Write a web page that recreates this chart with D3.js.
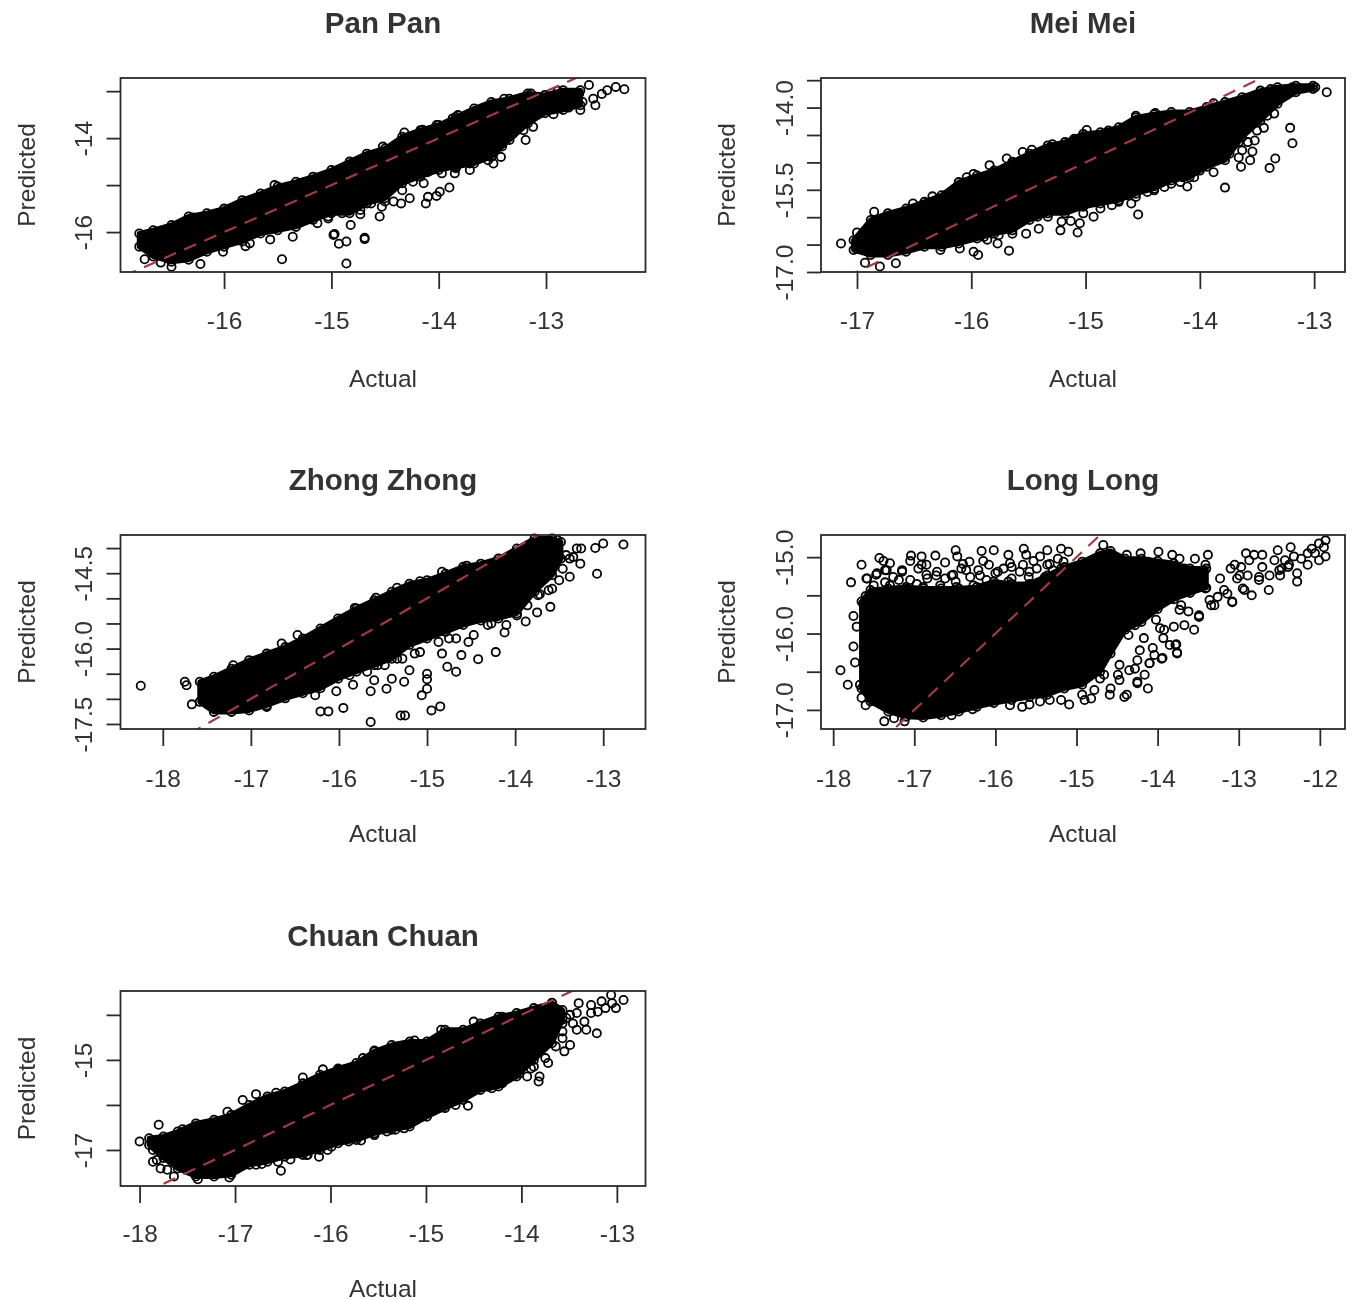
<!DOCTYPE html>
<html><head><meta charset="utf-8">
<script src="https://cdn.jsdelivr.net/npm/d3@7"></script>
<style>
html,body{margin:0;padding:0;background:#fff}
svg{display:block;filter:blur(0.6px)}
text{font-family:"Liberation Sans",Arial,sans-serif;fill:#333}
</style></head><body>
<div id="chart"></div>
<script>
// ---------- Pan Pan ----------
const panXlim=[-16.965,-12.073], panYlim=[-16.85,-12.72];
const panXTicks=[-16,-15,-14,-13], panYTicks=[-13,-14,-15,-16], panYLabels=[-14,-16];
const panBandX=[-16.79,-16.66,-16.49,-16.33,-16.16,-16.0,-15.83,-15.66,-15.50,-15.33,-15.17,-15.0,-14.83,-14.67,-14.5,-14.34,-14.17,-14.0,-13.84,-13.67,-13.51,-13.34,-13.17,-13.01,-12.84,-12.68];
const panBandHigh=[-16.03,-15.96,-15.85,-15.67,-15.60,-15.50,-15.32,-15.18,-15.03,-14.93,-14.82,-14.68,-14.50,-14.33,-14.22,-13.97,-13.83,-13.72,-13.55,-13.37,-13.23,-13.16,-13.05,-13.08,-12.98,-12.98];
const panBandLow=[-16.31,-16.52,-16.63,-16.59,-16.42,-16.31,-16.20,-16.03,-15.96,-15.89,-15.74,-15.60,-15.60,-15.39,-15.28,-14.96,-14.82,-14.68,-14.61,-14.54,-14.40,-14.04,-13.69,-13.47,-13.40,-13.30];
const panActual=[-15.46,-14.86,-16.22,-16.49,-16.59,-16.74,-16.01,-15.80,-15.76,-15.57,-15.36,-14.97,-14.98,-14.93,-14.86,-14.69,-14.69,-14.82,-14.90,-14.73,-15.13,-15.03,-14.55,-14.53,-14.42,-14.35,-14.27,-14.12,-14.10,-14.02,-13.99,-13.90,-14.24,-14.32,-14.10,-13.85,-13.71,-13.49,-13.42,-13.54,-13.19,-13.12,-13.31,-13.21,-12.93,-12.79,-12.68,-12.54,-12.56,-12.48,-12.35,-12.27,-12.60,-12.89,-12.69,-12.78,-12.66,-12.43,-14.32,-14.15,-14.02,-13.87,-13.82,-14.52,-16.29,-15.53,-13.14,-13.39,-13.34,-13.41,-13.27,-13.17,-13.08,-12.98,-13.57,-13.71,-13.84,-13.97,-14.14,-14.34,-14.50,-14.63,-14.73,-14.90,-15.03,-13.72,-13.71];
const panPredicted=[-16.58,-16.67,-16.68,-16.74,-16.65,-16.58,-16.42,-16.30,-16.24,-16.16,-16.10,-16.04,-16.06,-16.25,-16.20,-16.12,-16.15,-15.85,-15.60,-15.62,-15.81,-15.71,-15.67,-15.46,-15.35,-15.39,-15.28,-15.39,-15.25,-15.23,-15.14,-15.05,-14.93,-14.86,-14.72,-14.75,-14.68,-14.54,-14.40,-14.47,-14.04,-13.76,-13.91,-13.83,-13.49,-13.35,-13.40,-13.30,-13.16,-13.06,-12.91,-12.96,-12.87,-12.99,-13.05,-13.19,-13.23,-12.98,-13.88,-13.82,-13.72,-13.58,-13.51,-14.18,-15.69,-15.0,-13.05,-13.16,-13.90,-14.18,-13.62,-13.51,-13.44,-13.33,-14.36,-14.54,-14.64,-14.75,-14.96,-15.11,-15.35,-15.39,-15.53,-15.46,-15.67,-14.04,-14.25];

// ---------- Mei Mei ----------
const meiXlim=[-17.315,-12.73], meiYlim=[-17.0,-13.46];
const meiXTicks=[-17,-16,-15,-14,-13], meiYTicks=[-14,-14.5,-15,-15.5,-16,-16.5,-17,-13.5], meiYLabels=[-14,-15.5,-17];
const meiBandX=[-17.03,-16.88,-16.73,-16.57,-16.41,-16.26,-16.11,-15.95,-15.80,-15.64,-15.49,-15.33,-15.18,-15.02,-14.87,-14.71,-14.56,-14.40,-14.25,-14.09,-13.94,-13.78,-13.63,-13.47,-13.32,-13.16,-13.01];
const meiBandHigh=[-16.42,-16.05,-15.93,-15.84,-15.72,-15.60,-15.36,-15.24,-15.15,-14.99,-14.84,-14.69,-14.63,-14.48,-14.45,-14.36,-14.18,-14.12,-14.08,-14.08,-13.99,-13.90,-13.81,-13.69,-13.63,-13.60,-13.60];
const meiBandLow=[-16.60,-16.69,-16.69,-16.63,-16.54,-16.54,-16.48,-16.39,-16.30,-16.24,-16.05,-15.93,-15.93,-15.81,-15.75,-15.69,-15.57,-15.48,-15.33,-15.27,-15.08,-14.96,-14.54,-14.24,-13.93,-13.72,-13.66];
const meiActual=[-17.14,-17.0,-16.93,-16.80,-16.66,-16.85,-16.27,-16.10,-15.98,-15.94,-15.67,-15.86,-15.77,-15.52,-15.41,-15.22,-15.07,-15.05,-15.13,-15.33,-14.93,-14.77,-14.60,-14.54,-14.64,-14.46,-14.31,-14.17,-14.11,-14.05,-13.88,-13.78,-13.64,-13.56,-13.54,-13.63,-13.52,-13.78,-13.44,-13.35,-13.39,-13.34,-13.19,-13.21,-12.89,-12.99,-13.19,-13.38,-14.99,-15.10,-15.29,-15.47,-15.55,-15.69,-15.84,-15.98,-16.04,-16.34,-16.51,-14.56,-14.39,-14.80,-13.88,-13.72,-13.60,-13.50,-13.66,-13.58,-13.74,-13.80,-13.66,-13.47,-13.41,-13.54,-13.63,-13.84,-14.0,-14.15,-14.25,-14.40,-14.56,-14.71,-14.87,-15.02,-15.21,-15.42,-15.64,-15.76,-15.89];
const meiPredicted=[-16.48,-16.28,-16.83,-16.90,-16.84,-15.90,-16.60,-16.57,-16.63,-16.69,-16.61,-16.41,-16.48,-16.30,-16.21,-16.24,-16.28,-16.11,-16.07,-15.99,-15.99,-15.78,-15.75,-15.95,-15.60,-15.54,-15.45,-15.36,-15.44,-15.27,-15.18,-15.46,-15.08,-14.96,-14.80,-14.78,-14.60,-14.66,-14.37,-14.11,-15.10,-14.93,-14.65,-14.37,-13.72,-13.63,-13.63,-13.66,-14.41,-14.57,-14.67,-14.77,-14.81,-14.93,-15.05,-15.21,-15.27,-15.62,-15.75,-14.15,-14.10,-14.42,-13.92,-14.36,-14.30,-14.42,-14.63,-14.63,-14.84,-14.72,-14.91,-14.18,-14.15,-14.08,-14.48,-14.93,-15.15,-15.27,-15.39,-15.51,-15.63,-15.72,-15.84,-15.93,-16.08,-15.99,-16.30,-16.33,-16.36];

// ---------- Zhong Zhong ----------
const zhongXlim=[-18.48,-12.52], zhongYlim=[-17.6,-13.74];
const zhongXTicks=[-18,-17,-16,-15,-14,-13], zhongYTicks=[-14,-14.5,-15,-15.5,-16,-16.5,-17,-17.5], zhongYLabels=[-14.5,-16,-17.5];
const zhongBandX=[-17.58,-17.42,-17.22,-17.02,-16.82,-16.61,-16.41,-16.21,-16.01,-15.80,-15.60,-15.40,-15.20,-15.0,-14.79,-14.59,-14.39,-14.19,-13.98,-13.78,-13.58,-13.48];
const zhongBandHigh=[-16.66,-16.56,-16.40,-16.23,-16.10,-15.97,-15.80,-15.60,-15.40,-15.20,-15.04,-14.87,-14.71,-14.64,-14.51,-14.37,-14.31,-14.21,-14.01,-13.81,-13.81,-13.88];
const zhongBandLow=[-17.06,-17.26,-17.26,-17.23,-17.13,-16.99,-16.89,-16.79,-16.60,-16.46,-16.33,-16.20,-15.93,-15.80,-15.67,-15.53,-15.44,-15.40,-15.30,-14.87,-14.54,-14.21];
const zhongActual=[-18.25,-17.75,-17.73,-17.67,-16.21,-16.12,-15.95,-15.64,-15.30,-15.25,-15.06,-15.0,-14.95,-14.85,-15.0,-15.0,-15.26,-15.46,-15.64,-16.03,-16.27,-15.84,-15.60,-15.40,-15.20,-15.56,-15.34,-15.14,-14.77,-14.67,-14.61,-14.42,-14.22,-14.83,-14.53,-14.75,-14.12,-14.27,-13.88,-13.75,-13.60,-13.72,-13.58,-13.38,-13.07,-13.26,-12.77,-13.0,-13.09,-13.25,-13.34,-13.52,-14.55,-14.83,-15.08,-15.34,-15.58,-15.82,-16.47,-16.65,-17.20,-16.82,-13.42,-13.46,-13.50,-13.62,-13.74,-13.86,-13.98,-14.10,-14.31,-14.47,-14.67,-14.87,-15.08,-15.28,-15.48,-15.68,-15.88,-13.30,-13.38];
const zhongPredicted=[-16.74,-16.66,-16.73,-17.11,-17.25,-17.25,-17.18,-17.46,-17.33,-17.33,-16.93,-16.80,-17.23,-17.15,-16.61,-16.50,-16.66,-16.80,-16.85,-16.85,-16.93,-16.72,-16.63,-16.60,-16.43,-16.33,-16.20,-16.10,-16.36,-16.46,-16.13,-16.21,-16.07,-16.10,-15.87,-15.80,-15.68,-15.50,-15.46,-15.28,-15.17,-14.92,-14.81,-14.57,-14.51,-14.31,-13.93,-13.91,-14.0,-14.01,-14.18,-13.84,-14.35,-14.47,-14.66,-14.79,-14.99,-15.19,-15.73,-15.90,-16.33,-17.16,-14.14,-14.41,-14.64,-14.84,-14.94,-15.14,-15.34,-15.53,-15.53,-15.73,-15.80,-15.87,-16.07,-16.20,-16.33,-16.46,-16.53,-14.01,-14.21];

// ---------- Long Long ----------
const longXlim=[-18.15,-11.69], longYlim=[-17.25,-14.71];
const longXTicks=[-18,-17,-16,-15,-14,-13,-12], longYTicks=[-15,-15.5,-16,-16.5,-17], longYLabels=[-15,-16,-17];
const longBandX=[-17.65,-17.54,-17.32,-17.10,-16.89,-16.67,-16.45,-16.23,-16.02,-15.80,-15.58,-15.36,-15.15,-14.93,-14.71,-14.58,-14.4,-14.2,-14.0,-13.8,-13.6,-13.4];
const longBandHigh=[-15.58,-15.43,-15.41,-15.39,-15.41,-15.41,-15.41,-15.39,-15.32,-15.35,-15.35,-15.24,-15.13,-15.06,-14.95,-14.92,-15.02,-15.02,-15.05,-15.08,-15.15,-15.15];
const longBandLow=[-16.72,-16.89,-17.02,-17.09,-17.10,-17.07,-17.02,-16.96,-16.91,-16.87,-16.83,-16.80,-16.72,-16.67,-16.50,-16.26,-15.95,-15.85,-15.68,-15.55,-15.47,-15.40];
const longActual=[-17.65,-17.43,-17.38,-17.04,-16.91,-16.74,-16.49,-16.47,-16.17,-16.02,-15.65,-15.62,-15.36,-15.19,-15.10,-15.84,-15.45,-16.08,-16.32,-16.91,-17.15,-17.34,-17.47,-17.78,-17.58,-17.36,-17.19,-16.97,-16.73,-16.54,-16.36,-16.19,-15.97,-15.80,-15.58,-15.36,-15.84,-16.49,-16.84,-15.19,-15.23,-17.60,-17.63,-17.75,-17.71,-17.75,-17.73,-17.91,-17.82,-17.67,-17.65,-17.60,-17.37,-17.25,-17.12,-16.54,-16.28,-15.82,-15.67,-15.45,-15.19,-14.93,-14.82,-14.58,-14.41,-14.25,-14.12,-14.71,-14.49,-14.28,-14.10,-13.95,-13.76,-13.78,-13.93,-14.06,-13.97,-13.80,-14.02,-14.28,-14.41,-14.54,-14.36,-14.17,-13.49,-13.62,-13.71,-13.34,-13.08,-12.84,-12.63,-12.95,-13.14,-13.26,-13.41,-13.62,-13.84,-14.06,-14.28,-13.02,-12.89,-12.75,-12.71,-12.91,-12.71,-12.97,-13.10,-13.23,-13.38,-13.54,-13.41,-13.58,-13.73,-13.82,-13.99,-14.21,-14.38,-14.12,-14.36,-14.58,-14.67,-14.75,-14.58,-14.41,-14.23,-13.97,-13.80,-13.67,-13.49,-12.52,-12.56,-12.36,-12.49,-12.39,-12.28,-12.28,-12.15,-12.23,-12.10,-11.93,-12.01,-11.93,-12.01,-12.15,-12.32,-12.43,-11.95,-12.06,-12.47];
const longPredicted=[-15.10,-15.01,-15.05,-14.98,-14.99,-14.98,-14.91,-14.99,-14.92,-14.91,-14.89,-14.97,-14.91,-14.89,-14.93,-14.97,-14.99,-15.10,-15.06,-15.10,-15.17,-15.17,-15.23,-15.33,-15.28,-15.33,-15.30,-15.35,-15.24,-15.24,-15.17,-15.24,-15.19,-15.13,-15.19,-15.10,-15.32,-15.32,-15.28,-15.15,-15.02,-15.51,-15.61,-15.77,-15.91,-16.17,-16.38,-16.48,-16.67,-16.67,-16.84,-16.94,-17.15,-17.11,-17.15,-17.07,-16.99,-16.94,-16.96,-16.89,-16.87,-16.80,-16.85,-16.72,-16.83,-16.65,-16.72,-16.59,-16.54,-16.46,-16.39,-16.33,-16.26,-16.15,-16.06,-16.19,-15.93,-15.91,-15.82,-15.89,-15.80,-15.93,-16.02,-16.06,-15.78,-15.71,-15.63,-15.63,-15.58,-15.50,-15.43,-15.41,-15.48,-15.52,-15.41,-15.45,-15.54,-15.63,-15.58,-15.28,-15.24,-15.26,-15.13,-14.95,-14.97,-15.13,-15.15,-15.28,-14.97,-15.02,-15.10,-15.19,-15.02,-14.97,-14.93,-14.95,-14.97,-15.06,-15.15,-15.02,-14.84,-15.15,-15.32,-15.32,-15.37,-15.32,-15.28,-15.15,-15.37,-14.91,-15.04,-14.87,-15.24,-15.13,-15.32,-15.21,-15.10,-15.02,-14.89,-14.99,-15.04,-14.78,-14.82,-14.95,-14.99,-15.04,-14.87,-14.95,-15.15];
const longStripActual=[-17.59,-17.46,-17.36,-17.26,-17.15,-17.05,-16.95,-16.85,-16.72,-16.62,-16.52,-16.42,-16.31,-16.21,-16.11,-16.0,-15.90,-15.80,-15.70,-15.59,-15.49,-15.39,-15.29,-15.19,-17.50,-17.30,-17.09,-16.89,-16.68,-16.48,-16.27,-16.07,-15.86,-15.66,-15.45,-15.25,-14.38,-14.25,-13.76,-13.77,-13.94,-14.10,-14.25,-13.49,-13.08,-13.30,-17.30,-17.05,-16.85,-16.62,-16.40,-16.15,-15.82,-15.66,-15.53,-15.33,-15.16,-14.78,-14.59,-14.47,-14.35,-14.16,-14.04,-13.85,-13.67,-13.55,-13.92,-14.22,-14.47,-14.66,-14.72,-14.90,-15.09,-15.33,-15.58,-13.73,-13.36,-13.18,-12.93,-12.75,-12.62,-12.87,-13.05,-12.81,-12.50,-12.38,-12.99,-13.49];
const longStripPredicted=[-15.28,-15.21,-15.17,-15.26,-15.19,-15.30,-15.15,-15.23,-15.19,-15.28,-15.23,-15.15,-15.26,-15.17,-15.30,-15.21,-15.15,-15.28,-15.19,-15.26,-15.15,-15.26,-15.17,-15.26,-15.37,-15.37,-15.41,-15.39,-15.37,-15.39,-15.37,-15.41,-15.37,-15.39,-15.37,-15.37,-16.80,-16.63,-16.25,-16.14,-16.32,-16.39,-16.35,-15.78,-15.59,-15.63,-15.08,-15.05,-15.10,-15.07,-15.09,-15.05,-15.08,-15.10,-15.05,-15.09,-15.06,-16.74,-16.80,-16.61,-16.48,-16.54,-16.28,-16.15,-15.89,-15.95,-15.95,-16.22,-16.41,-16.54,-16.35,-16.87,-16.93,-16.87,-16.93,-15.69,-15.56,-15.43,-15.43,-15.30,-15.24,-15.04,-15.10,-14.97,-15.17,-15.10,-15.24,-15.76];

// ---------- Chuan Chuan ----------
const chuanXlim=[-18.2,-12.7], chuanYlim=[-17.8,-13.47];
const chuanXTicks=[-18,-17,-16,-15,-14,-13], chuanYTicks=[-14,-15,-16,-17], chuanYLabels=[-15,-17];
const chuanBandX=[-17.90,-17.75,-17.60,-17.41,-17.22,-17.04,-16.85,-16.66,-16.48,-16.29,-16.11,-15.92,-15.73,-15.54,-15.36,-15.17,-14.99,-14.80,-14.61,-14.43,-14.24,-14.05,-13.87,-13.68,-13.57];
const chuanBandHigh=[-16.74,-16.70,-16.59,-16.41,-16.33,-16.22,-16.0,-15.81,-15.70,-15.52,-15.33,-15.19,-15.07,-14.81,-14.67,-14.59,-14.59,-14.33,-14.33,-14.19,-14.04,-13.96,-13.85,-13.74,-13.89];
const chuanBandLow=[-16.89,-17.18,-17.41,-17.59,-17.59,-17.55,-17.33,-17.26,-17.15,-17.11,-17.0,-16.85,-16.78,-16.63,-16.55,-16.48,-16.26,-16.07,-15.89,-15.67,-15.59,-15.37,-15.0,-14.63,-14.11];
const chuanActual=[-18.0,-17.80,-17.86,-17.78,-17.64,-17.39,-17.06,-17.55,-17.08,-16.92,-16.78,-16.57,-16.29,-16.08,-15.92,-16.52,-16.42,-16.72,-16.24,-16.12,-15.99,-15.68,-15.41,-15.23,-15.04,-14.82,-14.69,-14.56,-14.58,-14.46,-14.31,-14.20,-14.07,-13.94,-13.82,-13.81,-13.72,-13.90,-13.55,-13.49,-13.57,-13.42,-13.21,-13.32,-13.20,-13.27,-13.40,-13.42,-13.34,-13.27,-13.12,-13.01,-13.06,-12.93,-13.16,-13.05,-14.50,-14.84,-15.12,-15.54,-15.66,-14.20,-13.68,-13.49,-13.57,-13.53,-13.57,-13.46,-13.64,-13.75,-13.87,-14.02,-14.17,-14.35,-14.50,-14.69,-14.91,-15.14,-15.32,-15.54,-15.81,-16.03,-16.25,-16.55,-16.78,-17.86,-17.82,-17.71];
const chuanPredicted=[-16.81,-16.44,-17.26,-17.41,-17.59,-17.65,-17.61,-16.54,-16.15,-15.89,-15.76,-15.73,-15.39,-15.21,-15.22,-17.46,-17.21,-17.31,-17.11,-17.15,-16.93,-16.79,-16.59,-16.52,-16.26,-16.04,-16.0,-16.02,-15.70,-15.61,-15.63,-15.52,-15.33,-15.37,-15.48,-15.37,-15.07,-15.19,-14.81,-14.67,-14.37,-14.33,-14.41,-14.33,-13.93,-13.78,-13.74,-13.96,-14.15,-13.96,-13.85,-13.85,-13.56,-13.67,-13.70,-13.74,-14.15,-14.33,-14.57,-14.79,-14.96,-14.04,-13.73,-14.0,-14.19,-14.07,-14.52,-14.19,-14.70,-14.96,-15.15,-15.30,-15.44,-15.59,-15.67,-15.85,-16.07,-16.37,-16.55,-16.67,-16.81,-17.0,-17.11,-17.26,-17.33,-17.0,-17.22,-17.44];

// ---------- text ----------
const titles=["Pan Pan","Mei Mei","Zhong Zhong","Long Long","Chuan Chuan"];
const xLabel="Actual", yLabel="Predicted";

// ---------- layout ----------
const W=1355,H=1300;
const colLeft=[120.5,821], colRight=[645.5,1345];
const rowTop=[78,535,991], rowBottom=[272,729,1186];
const tickBase=[328.5,786.5,1241.5], labelBase=[386.5,841.5,1296.5];
const panels=[
 {t:titles[0],c:0,r:0,xl:panXlim,yl:panYlim,xt:panXTicks,yt:panYTicks,yLab:panYLabels,bx:panBandX,bh:panBandHigh,bl:panBandLow,xs:panActual,ys:panPredicted,f:d3.format("d")},
 {t:titles[1],c:1,r:0,xl:meiXlim,yl:meiYlim,xt:meiXTicks,yt:meiYTicks,yLab:meiYLabels,bx:meiBandX,bh:meiBandHigh,bl:meiBandLow,xs:meiActual,ys:meiPredicted,f:d3.format(".1f")},
 {t:titles[2],c:0,r:1,xl:zhongXlim,yl:zhongYlim,xt:zhongXTicks,yt:zhongYTicks,yLab:zhongYLabels,bx:zhongBandX,bh:zhongBandHigh,bl:zhongBandLow,xs:zhongActual,ys:zhongPredicted,f:d3.format(".1f")},
 {t:titles[3],c:1,r:1,xl:longXlim,yl:longYlim,xt:longXTicks,yt:longYTicks,yLab:longYLabels,bx:longBandX,bh:longBandHigh,bl:longBandLow,xs:longActual.concat(longStripActual),ys:longPredicted.concat(longStripPredicted),f:d3.format(".1f")},
 {t:titles[4],c:0,r:2,xl:chuanXlim,yl:chuanYlim,xt:chuanXTicks,yt:chuanYTicks,yLab:chuanYLabels,bx:chuanBandX,bh:chuanBandHigh,bl:chuanBandLow,xs:chuanActual,ys:chuanPredicted,f:d3.format("d")}
];
const minus=s=>s.replace("\u2212","-");
const svg=d3.select("#chart").append("svg").attr("width",W).attr("height",H);
svg.append("rect").attr("width",W).attr("height",H).attr("fill","#fff");

panels.forEach((p,i)=>{
  const L=colLeft[p.c],R=colRight[p.c],T=rowTop[p.r],B=rowBottom[p.r];
  const x=d3.scaleLinear().domain(p.xl).range([L,R]);
  const y=d3.scaleLinear().domain(p.yl).range([B,T]);
  const g=svg.append("g");
  const cid="clip"+i;
  g.append("clipPath").attr("id",cid).append("rect").attr("x",L).attr("y",T).attr("width",R-L).attr("height",B-T);
  const plot=g.append("g");

  // dense overplotted core
  const area=d3.area().x(d=>x(d[0])).y0(d=>y(d[1])).y1(d=>y(d[2])).curve(d3.curveLinear);
  plot.append("path").datum(p.bx.map((v,j)=>[v,p.bl[j],p.bh[j]])).attr("d",area)
    .attr("fill","#000").attr("stroke","#000").attr("stroke-width",5).attr("stroke-linejoin","round");

  // rim of the core plus individually visible points
  const rim=p.bx.flatMap((v,j)=>[[v,p.bh[j]],[v,p.bl[j]]]);
  const pts=p.xs.map((v,j)=>[v,p.ys[j]]);
  plot.selectAll("circle").data(rim.concat(pts)).join("circle")
    .attr("cx",d=>x(d[0])).attr("cy",d=>y(d[1])).attr("r",4.1)
    .attr("fill","none").attr("stroke","#000").attr("stroke-width",1.8);

  // y = x reference
  g.append("line").attr("clip-path",`url(#${cid})`)
    .attr("x1",x(-19)).attr("y1",y(-19)).attr("x2",x(-11)).attr("y2",y(-11))
    .attr("stroke","#a23a46").attr("stroke-width",2.2).attr("stroke-dasharray","13 9");

  // box
  g.append("rect").attr("x",L).attr("y",T).attr("width",R-L).attr("height",B-T)
    .attr("fill","none").attr("stroke","#2a2a2a").attr("stroke-width",1.8);

  // axes
  const ax=g.append("g").attr("transform",`translate(0,${B})`)
    .call(d3.axisBottom(x).tickValues(p.xt).tickSize(17).tickPadding(15).tickFormat(d=>minus(d3.format("d")(d))));
  const ay=g.append("g").attr("transform",`translate(${L},0)`)
    .call(d3.axisLeft(y).tickValues(p.yt).tickSize(14).tickFormat(d=>p.yLab.includes(d)?minus(p.f(d)):""));
  [ax,ay].forEach(a=>{
    a.select(".domain").remove();
    a.selectAll("line").attr("stroke","#2a2a2a").attr("stroke-width",1.8);
    a.selectAll("text").attr("font-size",24.5).attr("font-family",null).style("fill","#333");
  });
  ax.selectAll("text").attr("dy",null).attr("y",tickBase[p.r]-B);
  ay.selectAll("text").attr("x",0).attr("dy",null).attr("y",-28.5)
    .attr("transform","rotate(-90)").attr("text-anchor","middle");

  // titles and labels
  const cx=(L+R)/2;
  g.append("text").attr("x",cx).attr("y",T-45).attr("text-anchor","middle")
    .attr("font-size",29.5).attr("font-weight","bold").text(p.t);
  g.append("text").attr("x",cx).attr("y",labelBase[p.r]).attr("text-anchor","middle")
    .attr("font-size",24.5).text(xLabel);
  g.append("text").attr("transform",`translate(${L-86},${(T+B)/2}) rotate(-90)`)
    .attr("text-anchor","middle").attr("font-size",24.5).text(yLabel);
});
</script>
</body></html>
